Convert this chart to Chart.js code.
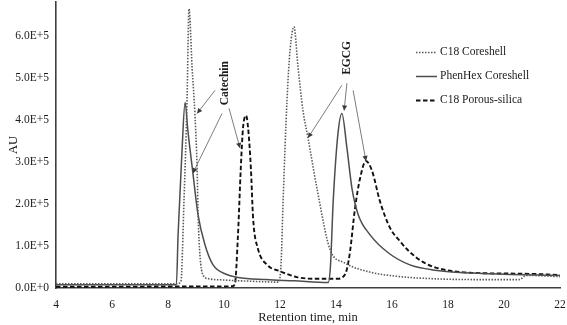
<!DOCTYPE html>
<html>
<head>
<meta charset="utf-8">
<script src="https://cdn.jsdelivr.net/npm/chart.js@4.4.1/dist/chart.umd.min.js"></script>
<style>
  html, body { margin: 0; padding: 0; background: #fff; }
  #wrap { width: 567px; height: 325px; position: relative; }
</style>
</head>
<body>
<div id="wrap"><canvas id="c" width="567" height="325"></canvas></div>
<script>
// ---- Data (retention time in min, AU) ----
const seriesNames = ["C18 Coreshell", "PhenHex Coreshell", "C18 Porous-silica"];

const c18CoreTime = [4, 8.3, 8.46, 8.57, 8.68, 8.75, 8.86, 8.96, 9.04, 9.08, 9.14, 9.25, 9.45, 10, 11, 11.95, 12.04, 12.11, 12.25, 12.36, 12.5, 12.64, 12.82, 13.0, 13.32, 13.79, 14.3, 15.2, 16.3, 17.5, 19, 20.55, 20.8, 22];
const c18CoreAU   = [1.0e4, 1.0e4, 1.5e4, 2.06e5, 4.46e5, 6.64e5, 5.25e5, 4.15e5, 2.85e5, 1.65e5, 0.79e5, 0.31e5, 0.22e5, 0.19e5, 0.16e5, 0.14e5, 0.6e5, 2.06e5, 4.46e5, 5.66e5, 6.21e5, 5.28e5, 4.22e5, 3.57e5, 2.37e5, 0.91e5, 0.6e5, 0.38e5, 0.27e5, 0.22e5, 0.2e5, 0.2e5, 0.3e5, 0.27e5];

const phenHexTime = [4, 8.3, 8.36, 8.5, 8.61, 8.71, 8.89, 9.07, 9.32, 9.61, 10.1, 10.5, 11.5, 12.5, 13.72, 13.8, 13.9, 14.07, 14.21, 14.39, 14.57, 14.79, 15.21, 15.9, 16.64, 17.46, 19.5, 22];
const phenHexAU   = [0.8e4, 0.8e4, 1.27e5, 3.26e5, 4.41e5, 3.74e5, 2.73e5, 1.75e5, 1.03e5, 0.55e5, 0.32e5, 0.25e5, 0.2e5, 0.17e5, 0.13e5, 0.5e5, 2.06e5, 3.67e5, 4.15e5, 3.33e5, 2.37e5, 1.75e5, 1.27e5, 0.82e5, 0.55e5, 0.43e5, 0.34e5, 0.3e5];

const porousTime = [4, 10.3, 10.39, 10.5, 10.6, 10.68, 10.79, 10.86, 10.96, 11.04, 11.21, 11.54, 12.0, 12.6, 13.18, 14.04, 14.3, 14.39, 14.5, 14.68, 14.86, 15.07, 15.29, 15.57, 15.93, 16.3, 16.6, 17.1, 17.7, 18.9, 20.7, 22];
const porousAU   = [0.3e4, 0.4e4, 1.0e4, 1.27e5, 2.85e5, 3.81e5, 4.1e5, 3.81e5, 2.85e5, 1.65e5, 0.94e5, 0.55e5, 0.4e5, 0.26e5, 0.22e5, 0.22e5, 0.3e5, 0.45e5, 0.86e5, 1.9e5, 2.61e5, 3.02e5, 2.78e5, 2.06e5, 1.43e5, 1.1e5, 0.88e5, 0.62e5, 0.46e5, 0.36e5, 0.34e5, 0.31e5];

const xTicks = [4, 6, 8, 10, 12, 14, 16, 18, 20, 22];
const yTicks = [0, 1e5, 2e5, 3e5, 4e5, 5e5, 6e5];

// Peak annotations (label and arrows in data coordinates)
const annotations = [
  { text: "Catechin", at: [10.04, 4.87e5],
    arrows: [[9.68, 4.70e5, 9.04, 4.15e5], [9.93, 4.15e5, 8.89, 2.73e5], [10.18, 4.27e5, 10.57, 3.33e5]] },
  { text: "EGCG", at: [14.39, 5.47e5],
    arrows: [[14.21, 4.82e5, 13.0, 3.57e5], [14.39, 4.87e5, 14.29, 4.22e5], [14.61, 4.70e5, 15.07, 3.02e5]] }
];

// ---- Build chart ----
const zip = (xs, ys) => xs.map((x, i) => ({ x: x, y: ys[i] }));
const FONT = "'Liberation Serif', 'Times New Roman', serif";

const datasets = [
  { label: seriesNames[0], data: zip(c18CoreTime, c18CoreAU), borderColor: '#5a5a5a', borderWidth: 1.6, borderDash: [1.5, 1.5] },
  { label: seriesNames[1], data: zip(phenHexTime, phenHexAU), borderColor: '#4d4d4d', borderWidth: 1.5, borderDash: [] },
  { label: seriesNames[2], data: zip(porousTime, porousAU), borderColor: '#111111', borderWidth: 1.9, borderDash: [4.5, 2.5] }
].map(d => Object.assign(d, { pointRadius: 0, fill: false, cubicInterpolationMode: 'monotone', tension: 0.4 }));

const legendPlugin = {
  id: 'customLegend',
  afterDraw(chart) {
    const ctx = chart.ctx;
    const x0 = 416, x1 = 437, tx = 440;
    const ys = [52, 76, 100];
    ctx.save();
    ctx.font = "11.5px " + FONT;
    ctx.textBaseline = 'middle';
    ctx.fillStyle = '#1a1a1a';
    chart.data.datasets.forEach((ds, i) => {
      ctx.beginPath();
      ctx.setLineDash(ds.borderDash);
      ctx.strokeStyle = ds.borderColor;
      ctx.lineWidth = ds.borderWidth;
      ctx.moveTo(x0, ys[i] + 0.5);
      ctx.lineTo(x1, ys[i] + 0.5);
      ctx.stroke();
      ctx.setLineDash([]);
      ctx.fillText(ds.label, tx, ys[i]);
    });
    ctx.restore();
  }
};

const annotationPlugin = {
  id: 'peakNotes',
  afterDatasetsDraw(chart) {
    const ctx = chart.ctx, xs = chart.scales.x, ys = chart.scales.y;
    ctx.save();
    annotations.forEach(a => {
      a.arrows.forEach(ar => {
        const px0 = xs.getPixelForValue(ar[0]), py0 = ys.getPixelForValue(ar[1]);
        const px1 = xs.getPixelForValue(ar[2]), py1 = ys.getPixelForValue(ar[3]);
        ctx.strokeStyle = '#6e6e6e';
        ctx.fillStyle = '#3a3a3a';
        ctx.lineWidth = 0.9;
        ctx.beginPath();
        ctx.moveTo(px0, py0);
        ctx.lineTo(px1, py1);
        ctx.stroke();
        const ang = Math.atan2(py1 - py0, px1 - px0);
        const L = 5, W = 2.6;
        ctx.beginPath();
        ctx.moveTo(px1, py1);
        ctx.lineTo(px1 - L * Math.cos(ang) + W * Math.sin(ang), py1 - L * Math.sin(ang) - W * Math.cos(ang));
        ctx.lineTo(px1 - L * Math.cos(ang) - W * Math.sin(ang), py1 - L * Math.sin(ang) + W * Math.cos(ang));
        ctx.closePath();
        ctx.fill();
      });
      const lx = xs.getPixelForValue(a.at[0]), ly = ys.getPixelForValue(a.at[1]);
      ctx.translate(lx, ly);
      ctx.rotate(-Math.PI / 2);
      ctx.font = "bold 11.5px " + FONT;
      ctx.fillStyle = '#1a1a1a';
      ctx.textAlign = 'center';
      ctx.textBaseline = 'middle';
      ctx.fillText(a.text, 0, 0);
      ctx.setTransform(1, 0, 0, 1, 0, 0);
    });
    ctx.restore();
  }
};

new Chart(document.getElementById('c'), {
  type: 'line',
  data: { datasets: datasets },
  plugins: [legendPlugin, annotationPlugin],
  options: {
    responsive: false,
    animation: false,
    devicePixelRatio: 1,
    layout: { padding: { top: 2, right: 7, left: 0, bottom: 0 } },
    plugins: { legend: { display: false }, tooltip: { enabled: false } },
    scales: {
      x: {
        type: 'linear', min: 4, max: 22,
        afterBuildTicks: s => { s.ticks = xTicks.map(v => ({ value: v })); },
        afterFit: s => { s.height = 37; s.paddingLeft = 0; s.paddingRight = 0; },
        grid: { display: false, drawTicks: false },
        border: { display: true, color: '#3f3f3f', width: 1.6 },
        ticks: { padding: 10, color: '#1a1a1a', font: { family: FONT, size: 11.5 }, maxRotation: 0, autoSkip: false },
        title: { display: true, text: 'Retention time, min', color: '#1a1a1a', font: { family: FONT, size: 12.5 }, padding: { top: 1, bottom: 0 } }
      },
      y: {
        type: 'linear', min: 0, max: 6.8e5,
        afterBuildTicks: s => { s.ticks = yTicks.map(v => ({ value: v })); },
        afterFit: s => { s.width = 56; s.paddingTop = 0; s.paddingBottom = 0; },
        grid: { display: false, drawTicks: false },
        border: { display: true, color: '#3f3f3f', width: 1.6 },
        ticks: {
          padding: 7, color: '#1a1a1a', font: { family: FONT, size: 11.5 },
          callback: v => v === 0 ? '0.0E+0' : (v / 1e5).toFixed(1) + 'E+5'
        },
        title: { display: true, text: 'AU', color: '#1a1a1a', font: { family: FONT, size: 12.5 }, padding: { top: 6, bottom: 0 } }
      }
    }
  }
});
</script>
</body>
</html>
